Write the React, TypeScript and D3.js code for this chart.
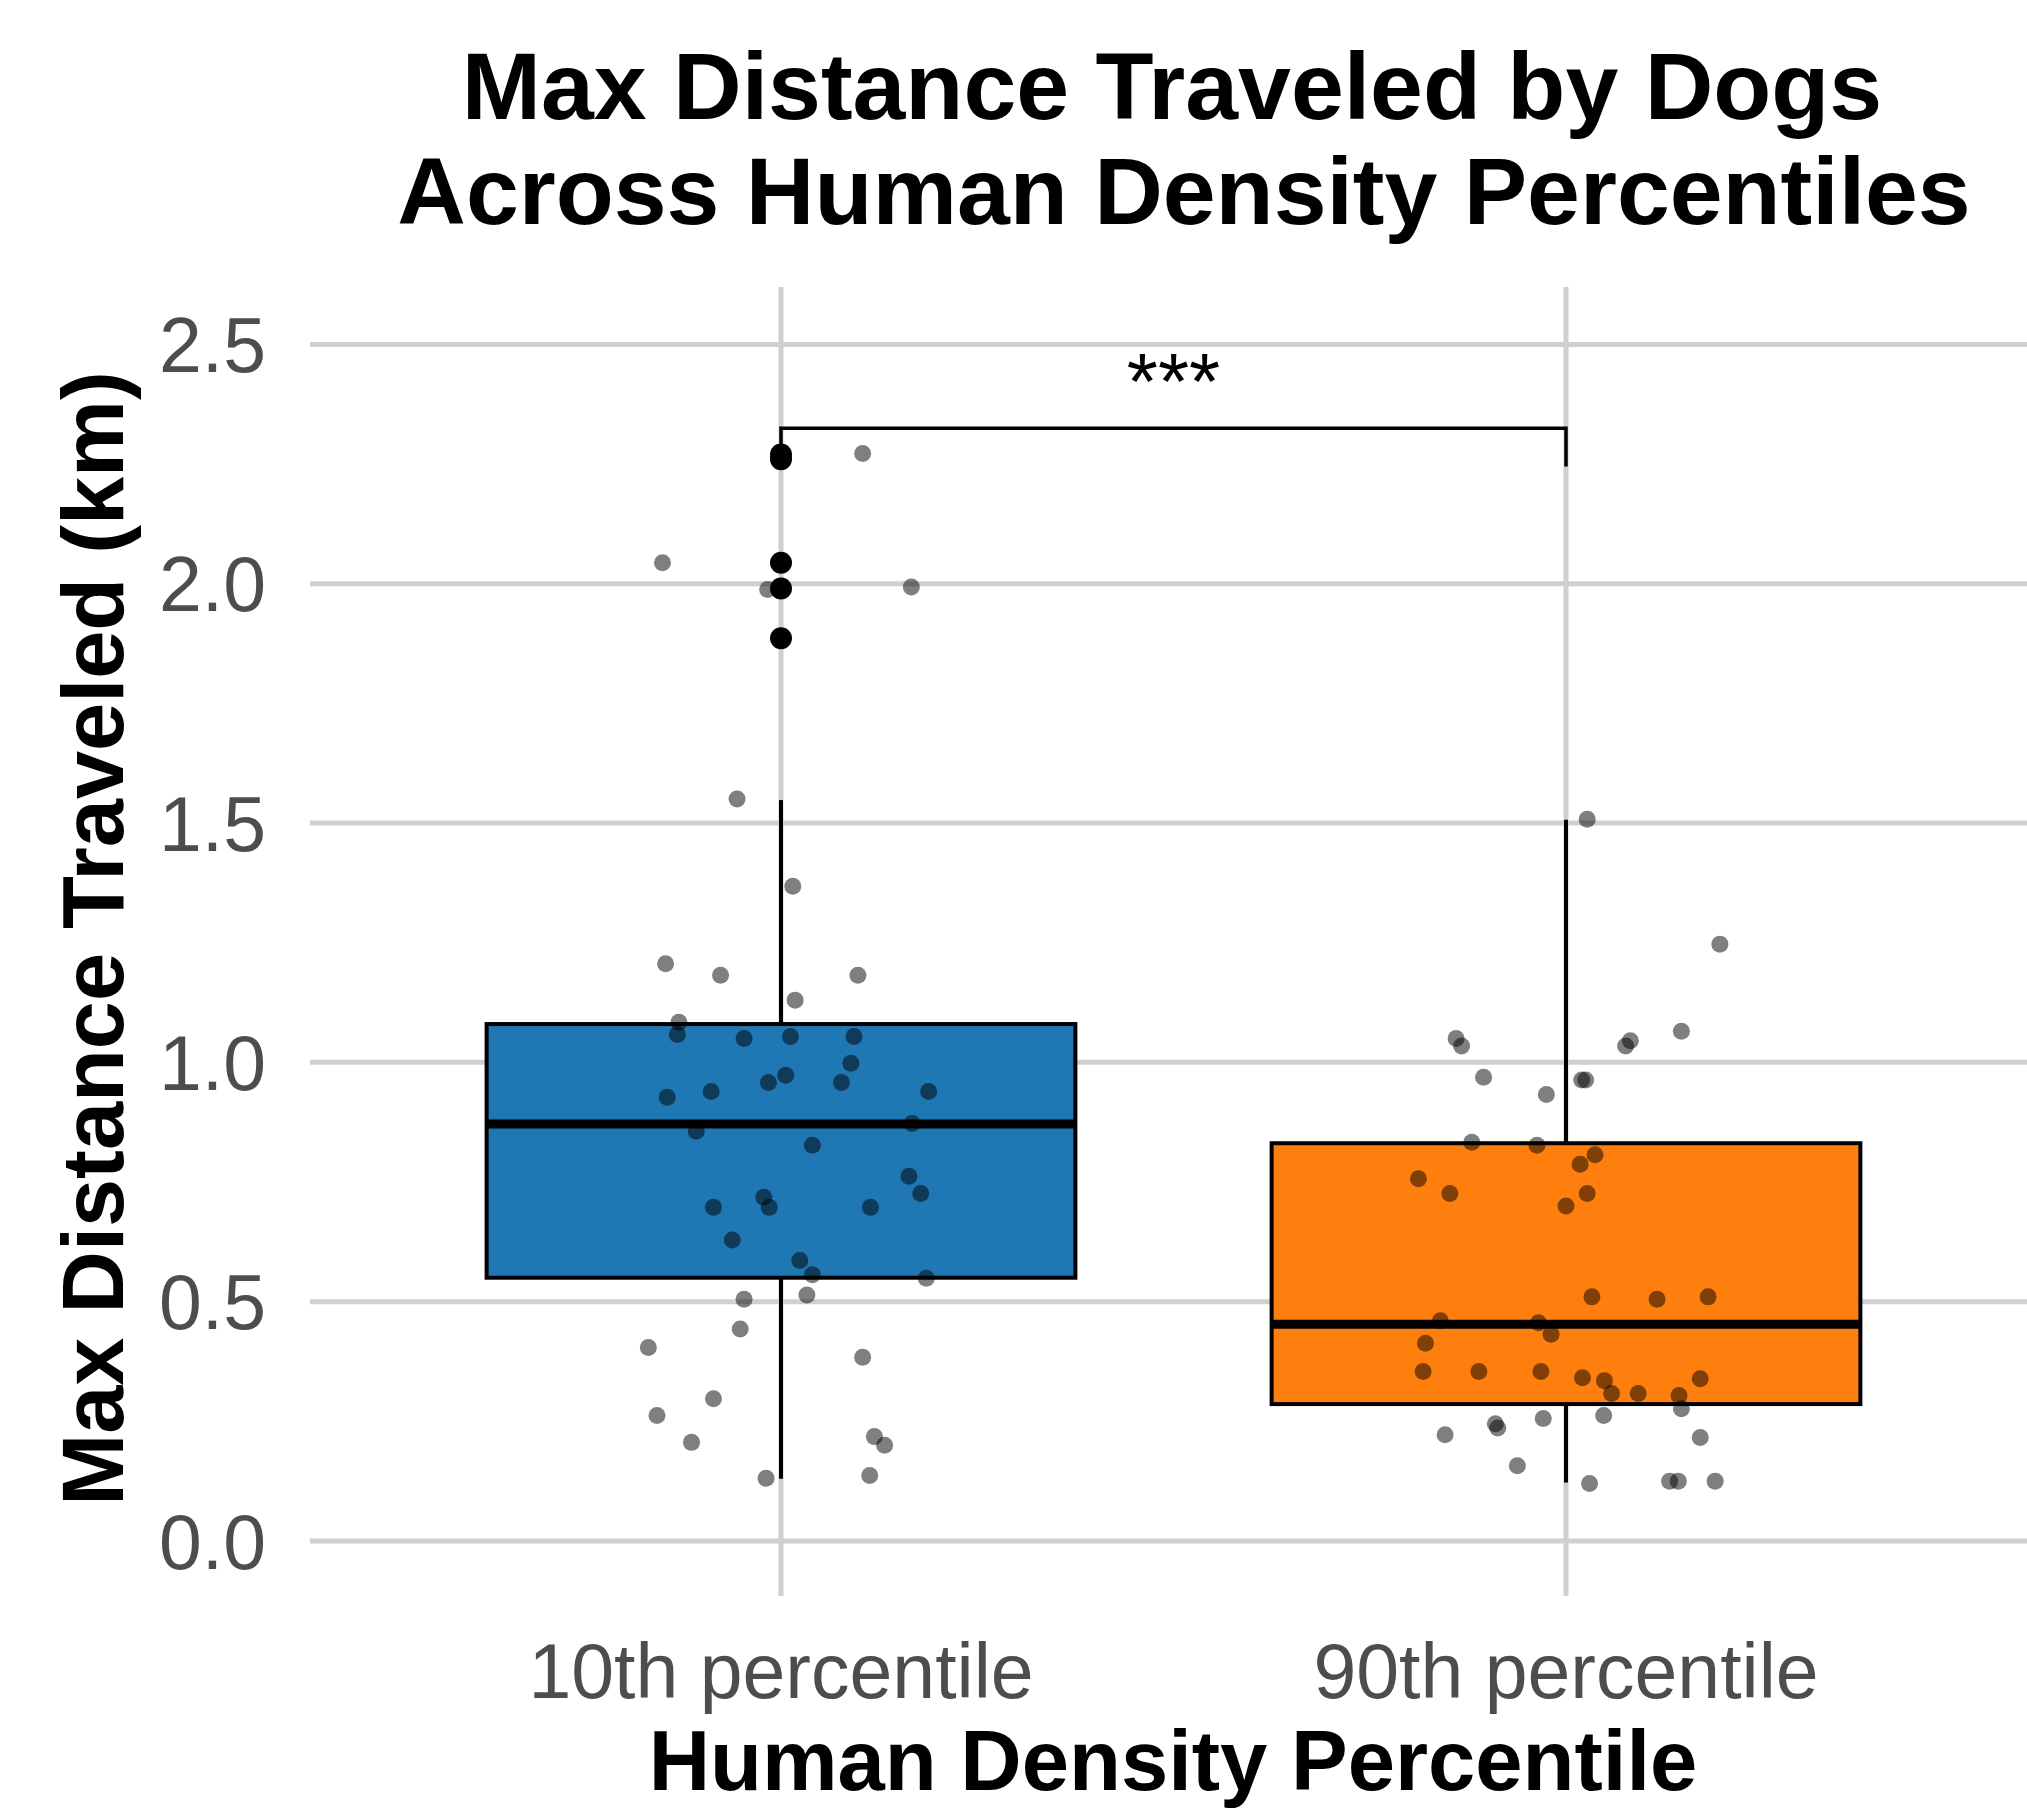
import React from 'react';
import * as d3 from 'd3';

const groups = ['10th percentile', '90th percentile'];
const boxFills = ['#1f77b4', '#ff7f0e'];

// box summaries
const whiskerLow = [0.13, 0.122];
const quart1 = [0.55, 0.286];
const medians = [0.871, 0.453];
const quart3 = [1.08, 0.831];
const whiskerHigh = [1.548, 1.507];
const outliers10 = [2.27, 2.26, 2.044, 1.99, 1.886];

// jittered raw points: value and horizontal jitter (in category units)
const values10 = [2.272, 2.044, 1.988, 1.993, 1.55, 1.368, 1.206, 1.182, 1.182, 1.13, 1.084, 1.058, 1.05, 1.054, 1.054,
  0.998, 0.973, 0.958, 0.958, 0.927, 0.939, 0.939, 0.872, 0.856, 0.827, 0.762, 0.726, 0.718, 0.697, 0.697, 0.697,
  0.629, 0.586, 0.556, 0.549, 0.505, 0.514, 0.443, 0.404, 0.384, 0.297, 0.262, 0.206, 0.218, 0.2, 0.131, 0.137];
const jitter10 = [0.104, -0.151, -0.017, 0.166, -0.056, 0.015, -0.147, -0.077, 0.098, 0.018, -0.13, -0.132, -0.047, 0.012, 0.093,
  0.089, 0.006, -0.016, 0.077, -0.145, -0.089, 0.188, 0.167, -0.108, 0.04, 0.163, 0.178, -0.022, -0.015, -0.086, 0.114,
  -0.062, 0.024, 0.04, 0.185, -0.047, 0.033, -0.052, -0.169, 0.104, -0.086, -0.158, -0.114, 0.119, 0.132, -0.019, 0.113];

const values90 = [1.508, 1.247, 1.065, 1.05, 1.034, 1.045, 1.034, 0.969, 0.963, 0.963, 0.933, 0.833, 0.827, 0.807, 0.787,
  0.757, 0.726, 0.726, 0.7, 0.51, 0.505, 0.51, 0.46, 0.456, 0.432, 0.413, 0.354, 0.354, 0.354, 0.341, 0.335, 0.308,
  0.308, 0.304, 0.339, 0.276, 0.262, 0.256, 0.245, 0.236, 0.222, 0.216, 0.157, 0.12, 0.125, 0.125, 0.125];
const jitter90 = [0.027, 0.196, 0.147, -0.14, -0.133, 0.082, 0.076, -0.105, 0.025, 0.02, -0.025, -0.12, -0.037, 0.037, 0.018,
  -0.188, -0.148, 0.027, 0, 0.033, 0.116, 0.181, -0.16, -0.035, -0.019, -0.179, -0.182, -0.111, -0.032, 0.021, 0.049, 0.058,
  0.092, 0.144, 0.171, 0.147, 0.048, -0.029, -0.09, -0.087, -0.154, 0.171, -0.062, 0.03, 0.132, 0.143, 0.19];

const yTicks = [0, 0.5, 1, 1.5, 2, 2.5];
const bracketY = 2.325;
const bracketTip = 2.245;
const signifLabel = '***';

const width = 2027;
const height = 1809;
const panel = { left: 310, right: 2037, top: 287, bottom: 1596 };
const font = '"Liberation Sans", Arial, sans-serif';

export default function App() {
  // ggplot-style discrete axis: categories at 1 and 2, expanded by 0.6
  const x = d3.scaleLinear().domain([0.4, 2.6]).range([panel.left, panel.right]);
  const y = d3.scaleLinear().domain([-0.115, 2.62]).range([panel.bottom, panel.top]);
  const boxHalf = 0.375;

  const pts = [
    values10.map((v, i) => ({ v, x: 1 + jitter10[i] })),
    values90.map((v, i) => ({ v, x: 2 + jitter90[i] })),
  ];

  return (
    <svg width={width} height={height} style={{ position: 'absolute', left: 0, top: 0, background: '#fff' }}
      fontFamily={font}>
      {/* grid */}
      {yTicks.map(t => (
        <line key={'h' + t} x1={panel.left} x2={panel.right} y1={y(t)} y2={y(t)} stroke="#d0d0d0" strokeWidth={5} />
      ))}
      {groups.map((g, i) => (
        <line key={'v' + g} x1={x(i + 1)} x2={x(i + 1)} y1={panel.top} y2={panel.bottom} stroke="#d0d0d0" strokeWidth={5} />
      ))}

      {/* boxes */}
      {groups.map((g, i) => (
        <g key={'box' + g}>
          <line x1={x(i + 1)} x2={x(i + 1)} y1={y(quart3[i])} y2={y(whiskerHigh[i])} stroke="#000" strokeWidth={4} />
          <line x1={x(i + 1)} x2={x(i + 1)} y1={y(quart1[i])} y2={y(whiskerLow[i])} stroke="#000" strokeWidth={4} />
          <rect x={x(i + 1 - boxHalf)} y={y(quart3[i])} width={x(i + 1 + boxHalf) - x(i + 1 - boxHalf)}
            height={y(quart1[i]) - y(quart3[i])} fill={boxFills[i]} stroke="#000" strokeWidth={4} />
          <line x1={x(i + 1 - boxHalf)} x2={x(i + 1 + boxHalf)} y1={y(medians[i])} y2={y(medians[i])}
            stroke="#000" strokeWidth={9} />
        </g>
      ))}
      {outliers10.map((v, i) => (
        <circle key={'o' + i} cx={x(1)} cy={y(v)} r={11} fill="#000" />
      ))}

      {/* jittered points */}
      {pts.map((arr, gi) => arr.map((p, i) => (
        <circle key={gi + '-' + i} cx={x(p.x)} cy={y(p.v)} r={8.5} fill="#000" fillOpacity={0.5} />
      )))}

      {/* significance bracket */}
      <path d={`M${x(1)},${y(bracketTip)}V${y(bracketY)}H${x(2)}V${y(bracketTip)}`} fill="none" stroke="#000" strokeWidth={3.5} />
      <text x={(x(1) + x(2)) / 2} y={409} textAnchor="middle" fontSize={80} fill="#000">{signifLabel}</text>

      {/* y axis labels */}
      {yTicks.map(t => (
        <text key={'yl' + t} x={266} y={y(t)} dy="0.36em" textAnchor="end" fontSize={77} fill="#4d4d4d">
          {d3.format('.1f')(t)}
        </text>
      ))}
      {groups.map((g, i) => (
        <text key={'xl' + g} x={x(i + 1)} y={1698} textAnchor="middle" fontSize={77} fill="#4d4d4d">{g}</text>
      ))}

      {/* titles */}
      <text x={1173} y={1790} textAnchor="middle" fontSize={85} fontWeight="bold">Human Density Percentile</text>
      <text transform={`translate(123, ${(panel.top + panel.bottom) / 2 - 3}) rotate(-90)`} textAnchor="middle"
        fontSize={86.5} fontWeight="bold">Max Distance Traveled (km)</text>
      <text x={1172} y={119} textAnchor="middle" fontSize={95} fontWeight="bold">Max Distance Traveled by Dogs</text>
      <text x={1184} y={224} textAnchor="middle" fontSize={95} fontWeight="bold">Across Human Density Percentiles</text>
    </svg>
  );
}
